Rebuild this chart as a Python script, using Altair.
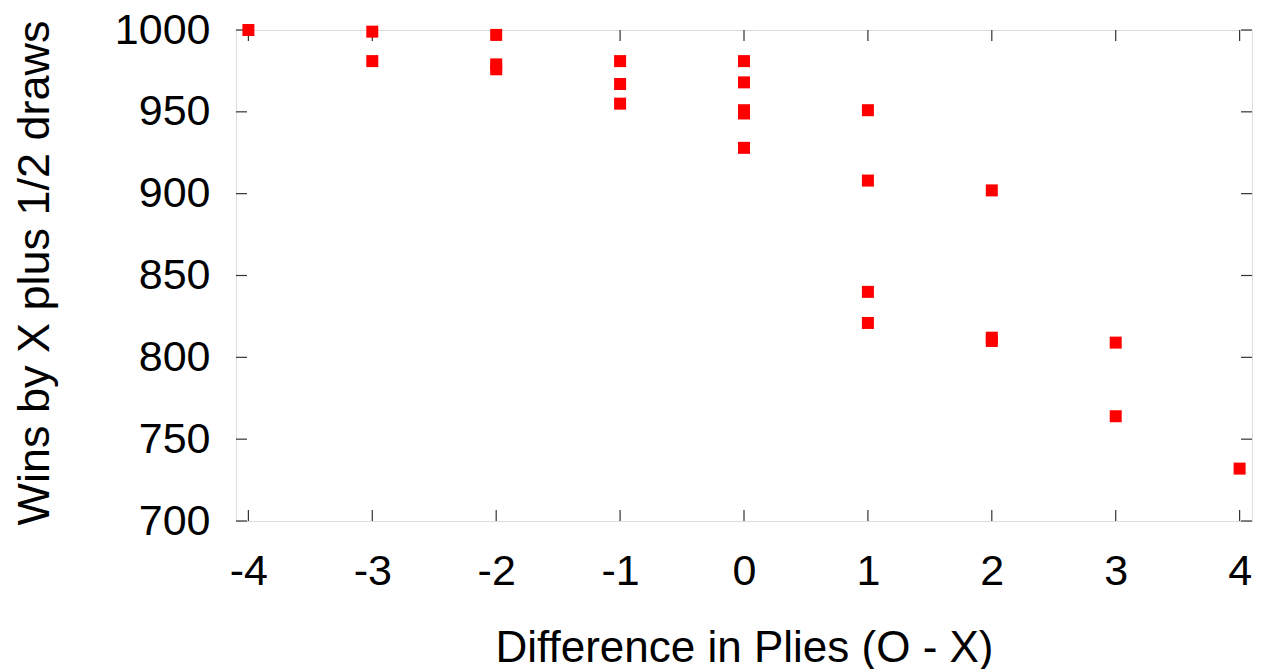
import altair as alt
import pandas as pd

# Data
diff_plies = [-4,
              -3, -3,
              -2, -2, -2,
              -1, -1, -1,
              0, 0, 0, 0, 0,
              1, 1, 1, 1,
              2, 2, 2,
              3, 3,
              4]
wins = [1000,
        999, 981,
        997, 979, 976,
        981, 967, 955,
        981, 968, 951, 949, 928,
        951, 908, 840, 821,
        902, 812, 810,
        809, 764,
        732]

x_ticks = [-4, -3, -2, -1, 0, 1, 2, 3, 4]
y_ticks = [700, 750, 800, 850, 900, 950, 1000]

W, H = 1016, 491
TICK = 11
FONT = "Liberation Sans"

pts = pd.DataFrame({"d": diff_plies, "w": wins})
xt = pd.DataFrame({"t": x_ticks})
yt = pd.DataFrame({"t": y_ticks})

xscale = alt.Scale(domain=[-4.1, 4.1], nice=False, zero=False)
yscale = alt.Scale(domain=[700, 1000], nice=False, zero=False)

points = alt.Chart(pts).mark_point(
    shape="square", filled=True, color="#ff0000", opacity=1, size=144
).encode(
    x=alt.X("d:Q", scale=xscale,
            axis=alt.Axis(values=x_ticks, labelExpr="'' + datum.value",
                          title="Difference in Plies (O - X)",
                          ticks=False, tickSize=0, domain=False, grid=False,
                          labelFont=FONT, labelFontSize=43, labelColor="black",
                          labelPadding=29, labelBaseline="top",
                          titleFont=FONT, titleFontSize=44, titleFontWeight="normal",
                          titleColor="black", titleX=W / 2, titleY=140,
                          titleBaseline="alphabetic")),
    y=alt.Y("w:Q", scale=yscale,
            axis=alt.Axis(values=y_ticks, labelExpr="'' + datum.value",
                          title="Wins by X plus 1/2 draws",
                          ticks=False, tickSize=0, domain=False, grid=False,
                          labelFont=FONT, labelFontSize=43, labelColor="black",
                          labelPadding=26,
                          titleFont=FONT, titleFontSize=45, titleFontWeight="normal",
                          titleColor="black", titleX=-188, titleY=H / 2 - 3,
                          titleAngle=270, titleAlign="center",
                          titleBaseline="alphabetic")),
)

tick_style = dict(color="#333333", strokeWidth=1.2)

xb = alt.Chart(xt).mark_rule(**tick_style).encode(
    x=alt.X("t:Q", scale=xscale), y=alt.value(H - TICK), y2=alt.value(H))
xtop = alt.Chart(xt).mark_rule(**tick_style).encode(
    x=alt.X("t:Q", scale=xscale), y=alt.value(0), y2=alt.value(TICK))
yl = alt.Chart(yt).mark_rule(**tick_style).encode(
    y=alt.Y("t:Q", scale=yscale), x=alt.value(0), x2=alt.value(TICK))
yr = alt.Chart(yt).mark_rule(**tick_style).encode(
    y=alt.Y("t:Q", scale=yscale), x=alt.value(W - TICK), x2=alt.value(W))

chart = alt.layer(xb, xtop, yl, yr, points).properties(
    width=W, height=H,
    autosize=alt.AutoSizeParams(type="none"),
    padding={"left": 228, "top": 22, "right": 8, "bottom": 148},
).configure_view(
    stroke="black", strokeWidth=1.5
).configure(background="white")

chart.save("out.html", embed_options={"renderer": "svg", "actions": False})
